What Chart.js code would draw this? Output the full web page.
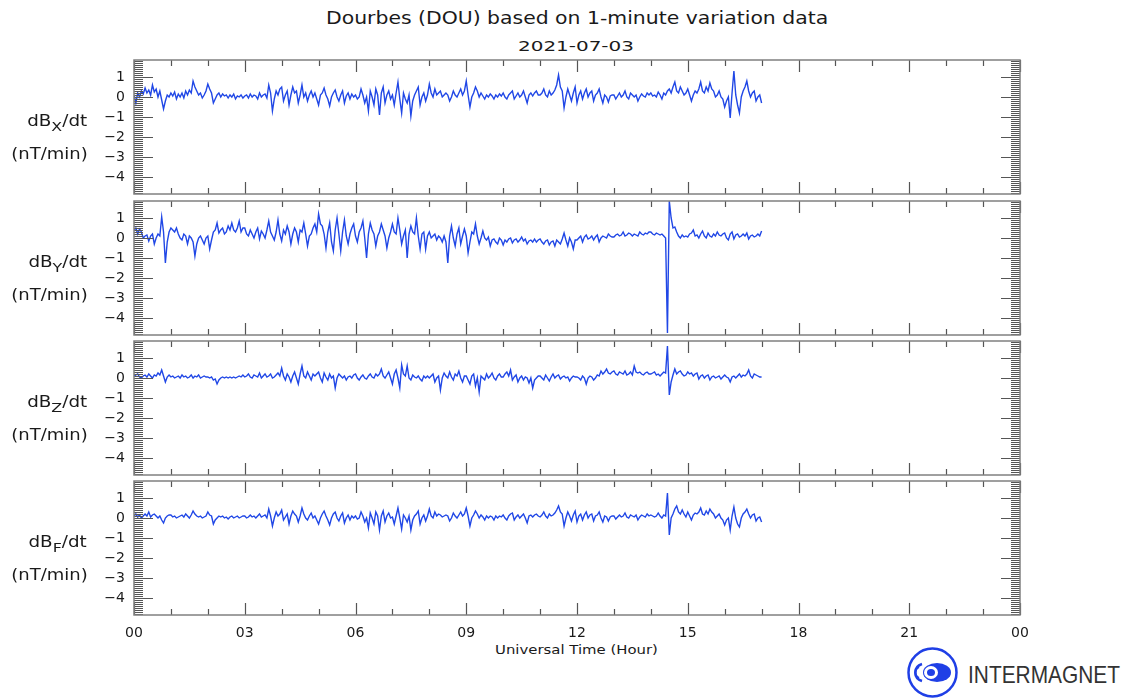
<!DOCTYPE html>
<html><head><meta charset="utf-8">
<script src="https://cdn.jsdelivr.net/npm/chart.js@4.4.1/dist/chart.umd.min.js"></script>
<style>
html,body{margin:0;padding:0;background:#fff;}
body{width:1129px;height:699px;position:relative;overflow:hidden;font-family:"DejaVu Sans",sans-serif;color:#1a1a1a;}
canvas{position:absolute;left:0;}
.t{position:absolute;white-space:nowrap;line-height:1;}
.ylab{position:absolute;white-space:nowrap;line-height:1;font-size:15px;}
.ylab sub{font-size:13px;vertical-align:-5px;line-height:0;}
</style></head><body>

<div class="t fit" data-w="502" data-cx="577" style="top:10px;font-size:17px;">Dourbes (DOU) based on 1-minute variation data</div>
<div class="t fit" data-w="116" data-cx="576" style="top:39px;font-size:14px;">2021-07-03</div>
<div class="t fit" data-w="163" data-cx="576" style="top:643px;font-size:13px;">Universal Time (Hour)</div>

<svg style="position:absolute;left:900px;top:640px" width="66" height="66" viewBox="0 0 66 66">
  <circle cx="32.5" cy="32.5" r="24" fill="none" stroke="#1f3fe6" stroke-width="2.5"/>
  <path d="M22 24 A10 9 0 0 0 22 41" fill="none" stroke="#1f3fe6" stroke-width="2.5"/>
  <path d="M19 27 A6 6 0 0 0 19 38" fill="none" stroke="#1f3fe6" stroke-width="2"/>
  <ellipse cx="37" cy="32.5" rx="14" ry="9.5" fill="#1f3fe6"/>
  <ellipse cx="31" cy="32.5" rx="7" ry="6.5" fill="#fff"/>
  <ellipse cx="31" cy="32.5" rx="4" ry="3.5" fill="#1f3fe6"/>
</svg>
<div class="t fit" data-w="152" data-left="968" style="top:663px;font-size:24px;font-family:'Liberation Sans',sans-serif;color:#333;">INTERMAGNET</div>

<script>
// ---------- data: one value every 3 minutes from 00:00 to 17:00 UT (20 per hour row) ----------
const STEP_MIN = 3;
const dBX = [
 0.1,-0.3,0.2,0.0,0.3,0.15,0.45,0.2,0.35,0.1,  0.6,0.25,0.4,0.0,0.3,-0.15,-0.6,-0.2,0.1,0.0,
 0.2,0.05,0.25,-0.1,0.15,0.0,0.2,-0.05,0.3,0.1,  0.35,0.2,0.8,0.5,0.3,0.1,0.2,-0.05,0.1,0.3,
 0.65,0.4,0.2,-0.3,-0.1,0.1,0.2,0.0,0.15,0.05,  0.1,-0.05,0.1,0.0,0.15,-0.1,0.05,0.0,0.1,-0.05,
 0.05,0.1,-0.05,0.15,0.0,0.1,0.05,-0.1,0.2,0.0,  0.1,0.15,-0.05,0.6,0.2,-0.7,-0.1,0.3,0.1,0.4,
 0.5,-0.2,0.1,0.3,-0.4,0.1,0.5,0.2,0.3,-0.3,  0.1,0.6,0.0,0.2,-0.2,0.1,0.3,0.0,0.2,-0.1,
 -0.4,0.1,0.2,0.45,0.1,-0.1,-0.45,0.0,0.2,0.35,  0.0,-0.2,0.1,0.3,-0.3,0.05,0.2,-0.1,0.15,0.0,
 0.1,-0.1,0.0,0.4,0.1,-0.3,0.0,-0.7,0.3,0.0,  -0.4,0.4,0.1,-0.9,0.2,0.5,-0.3,0.1,0.3,-0.1,
 0.1,-0.4,0.2,0.75,-0.1,-0.8,0.2,-0.1,-0.3,0.1,  -0.95,-0.2,0.1,0.3,0.5,-0.4,0.0,0.2,-0.2,0.1,
 0.65,0.2,0.0,0.4,0.1,0.2,0.3,0.0,0.1,0.2,  0.1,-0.2,0.0,0.3,0.1,0.0,0.2,0.4,0.1,0.3,
 0.8,0.1,-0.5,0.0,0.2,0.5,0.3,0.0,0.2,0.05,  -0.1,0.1,0.0,0.15,0.05,-0.1,0.1,0.0,0.15,0.05,
 0.2,0.0,-0.1,0.1,0.2,0.3,-0.1,0.05,0.2,0.0,  0.1,0.3,0.0,-0.3,0.1,0.2,0.05,0.2,0.3,0.1,
 0.1,0.2,0.4,0.1,0.0,0.3,0.1,0.2,0.35,0.6,  1.1,0.5,0.3,-0.55,0.0,0.4,0.1,-0.2,0.2,0.5,
 -0.3,0.1,0.3,-0.1,0.2,0.4,0.0,0.2,0.3,-0.2,  0.1,0.2,0.4,0.0,-0.3,0.1,0.0,-0.25,0.05,0.1,
 0.1,-0.1,0.05,0.2,0.0,0.1,0.3,0.0,-0.1,0.2,  0.1,0.0,0.1,-0.2,0.0,0.15,0.05,0.0,0.2,0.1,
 0.2,0.05,0.1,0.0,0.25,0.1,-0.1,0.2,0.1,0.3,  0.4,0.2,0.5,0.75,0.3,0.2,0.5,0.3,0.1,0.2,
 0.4,0.1,-0.2,0.1,0.3,0.2,0.4,0.75,0.3,0.2,  0.5,0.3,0.7,0.4,0.3,0.0,0.1,0.3,0.0,-0.1,
 -0.5,-0.2,0.0,-1.05,0.2,1.3,0.1,-0.4,-0.8,0.0,  0.3,0.5,0.8,0.3,0.0,0.2,0.3,-0.2,0.0,0.1,
 -0.3
];
const dBY = [
 0.4,0.5,0.2,0.45,0.3,0.0,0.1,0.15,-0.15,0.1,  0.2,-0.3,0.0,0.2,0.1,1.05,0.3,-1.25,-0.2,0.3,
 0.5,0.4,0.3,0.5,0.2,0.0,-0.1,0.2,0.1,-0.3,  0.1,0.0,-0.2,-0.9,-0.3,0.0,0.1,-0.1,-0.3,0.0,
 0.1,-0.55,-0.1,0.3,0.4,0.75,0.25,0.4,0.5,0.2,  0.3,0.6,0.4,0.75,0.4,0.3,0.5,0.85,0.3,0.5,
 0.5,0.2,0.1,0.4,0.2,0.0,0.3,0.5,-0.05,0.35,  0.2,0.0,0.4,0.85,0.3,0.1,-0.1,0.3,0.9,0.2,
 -0.15,0.4,0.2,0.6,0.3,-0.3,0.2,0.5,0.3,-0.2,  0.4,0.3,0.75,0.2,-0.4,0.1,0.2,0.5,0.7,0.3,
 1.2,0.7,0.6,0.2,-0.5,0.3,0.75,-0.2,-0.65,0.4,  1.0,0.2,-0.65,0.3,0.9,0.1,-0.3,0.2,0.5,0.7,
 0.1,-0.2,0.3,0.5,0.85,0.0,-1.0,0.2,0.75,0.4,  0.2,-0.4,0.1,0.3,0.7,0.4,0.1,-0.5,0.0,0.3,
 0.7,0.3,0.2,1.0,0.4,-0.3,0.1,0.4,-1.0,0.2,  0.6,0.3,0.2,1.0,0.1,-0.55,0.2,0.3,-0.55,0.1,
 0.3,0.0,0.1,0.2,-0.1,0.1,0.0,-0.2,0.1,-0.2,  -1.25,0.1,0.6,0.0,-0.4,0.2,0.5,-0.3,0.1,0.45,
 0.1,-0.75,-0.2,0.3,0.2,0.7,0.1,-0.3,0.0,0.35,  0.0,-0.1,0.05,-0.4,-0.1,-0.05,-0.2,-0.3,0.0,-0.1,
 -0.35,-0.1,-0.2,-0.05,0.0,-0.25,-0.1,-0.05,-0.2,-0.1,  0.05,-0.15,-0.05,-0.3,-0.15,-0.1,-0.2,-0.05,-0.2,-0.1,
 -0.05,-0.2,-0.3,-0.15,-0.1,-0.35,-0.2,-0.15,-0.4,-0.1,  -0.2,-0.3,-0.05,0.25,-0.1,-0.4,0.0,-0.2,-0.55,-0.1,
 -0.1,0.0,0.1,-0.2,0.05,0.15,-0.05,0.0,0.1,-0.1,  0.05,0.15,-0.2,0.0,0.1,0.05,0.0,0.2,0.1,0.05,
 0.05,0.15,0.2,0.1,0.15,0.3,0.1,0.15,0.25,0.2,  0.1,0.2,0.15,0.1,0.3,0.2,0.15,0.25,0.2,0.3,
 0.3,0.2,0.15,0.25,0.2,0.15,0.2,0.1,0.0,-4.75,  1.85,1.0,0.5,0.55,0.3,0.1,0.0,0.15,0.05,0.1,
 0.05,0.2,0.25,0.4,0.1,0.15,0.0,0.2,0.35,0.1,  0.0,0.25,0.1,0.05,0.2,0.1,0.3,0.15,0.1,0.2,
 0.25,0.0,-0.1,0.2,0.3,-0.05,0.15,0.2,0.05,0.1,  0.2,0.1,0.25,-0.05,0.1,0.15,0.05,0.1,0.2,0.1,
 0.35
];
const dBZ = [
 0.1,0.15,0.2,0.05,0.0,0.1,0.15,0.05,0.2,0.1,  0.0,0.15,0.1,0.25,0.15,0.4,0.1,-0.2,0.05,0.15,
 0.05,0.1,0.0,0.05,0.1,0.0,0.15,0.05,0.1,0.0,  0.05,0.15,0.0,0.1,0.05,0.15,0.0,0.05,0.1,0.05,
 0.05,0.0,0.05,-0.1,-0.05,-0.3,-0.1,0.0,0.05,0.0,  0.05,0.0,0.05,0.0,0.05,0.0,0.05,0.1,0.05,0.15,
 0.05,0.1,0.2,0.05,0.0,0.15,0.1,0.05,0.25,0.0,  0.1,0.2,0.05,0.1,0.2,0.0,0.05,0.15,0.25,0.1,
 0.5,0.1,-0.1,0.2,0.05,-0.2,0.1,0.3,0.0,-0.3,  0.2,0.6,0.1,0.0,0.3,0.1,-0.1,0.2,0.1,0.2,
 0.3,0.0,-0.2,0.25,0.05,-0.1,0.2,0.0,0.1,-0.5,  0.0,0.2,0.1,0.0,0.1,-0.1,0.05,0.1,0.0,0.15,
 0.2,0.0,-0.1,0.05,0.15,0.0,-0.05,0.1,0.2,0.05,  0.0,0.2,0.1,0.2,0.45,0.1,0.0,0.15,0.3,0.0,
 -0.3,0.2,0.4,0.0,-0.5,0.65,0.2,0.1,0.6,0.0,  -0.1,0.15,0.05,0.0,0.1,-0.05,-0.15,0.1,0.0,0.1,
 0.0,0.1,0.2,-0.2,0.0,0.1,-0.6,0.0,0.25,0.1,  0.0,0.3,0.05,-0.1,0.2,0.1,0.35,0.0,-0.2,0.1,
 0.1,-0.1,-0.3,0.1,0.2,-0.4,0.0,-0.7,0.1,0.0,  -0.1,0.2,0.0,0.1,0.25,0.0,-0.1,0.1,0.2,0.05,
 0.05,0.2,0.3,0.1,0.4,-0.1,0.05,0.15,-0.2,0.0,  0.1,-0.1,0.05,0.0,-0.25,0.0,-0.5,-0.1,0.0,0.1,
 0.1,0.0,-0.1,0.15,0.0,-0.15,0.05,0.2,0.0,0.1,  0.15,-0.05,0.05,0.1,0.0,0.05,-0.15,0.0,0.1,0.05,
 0.05,0.0,-0.1,0.1,0.0,-0.3,0.0,0.1,0.05,-0.1,  0.0,0.15,0.1,0.35,0.2,0.3,0.45,0.25,0.2,0.3,
 0.35,0.2,0.15,0.3,0.25,0.2,0.35,0.15,0.2,0.3,  0.15,0.6,0.3,0.25,0.3,0.2,0.15,0.25,0.3,0.2,
 0.2,0.25,0.3,0.15,0.2,0.1,0.2,0.3,0.25,1.6,  -0.85,-0.2,0.15,0.45,0.2,0.3,0.35,0.2,0.1,0.15,
 0.3,0.2,0.25,0.1,0.2,0.25,-0.05,0.1,0.15,0.0,  0.1,0.15,-0.1,0.05,0.1,0.0,0.05,0.1,-0.05,0.05,
 0.15,0.05,0.0,-0.2,0.05,0.1,0.0,0.1,0.2,0.05,  0.15,0.1,0.2,0.4,0.1,0.0,0.2,0.15,0.1,0.05,
 0.05
];
const dBF = [
 0.1,0.2,0.05,0.15,0.0,0.1,0.2,0.1,0.3,0.05,  0.15,0.2,0.1,0.0,0.1,-0.1,-0.25,0.0,0.1,0.15,
 0.15,0.05,0.1,0.0,0.05,0.1,0.15,0.05,0.2,0.1,  0.0,0.15,0.35,0.2,0.1,0.05,0.1,0.0,0.05,0.1,
 0.3,0.15,0.1,-0.3,-0.1,0.0,0.1,0.05,0.1,0.0,  0.05,-0.05,0.05,0.1,0.0,0.05,0.1,0.0,0.05,0.1,
 0.1,0.0,0.05,0.15,0.05,0.1,0.0,0.1,0.2,0.05,  0.1,0.15,0.0,0.45,0.1,-0.4,0.0,0.3,0.1,0.2,
 0.4,-0.1,0.05,0.2,-0.3,0.1,0.35,0.2,0.1,-0.2,  0.1,0.5,0.2,0.0,-0.1,0.1,0.25,0.0,0.1,-0.1,
 -0.3,0.0,0.2,0.35,0.1,-0.1,-0.35,0.0,0.2,0.3,  0.0,-0.15,0.1,0.25,-0.25,0.0,0.15,-0.1,0.1,0.0,
 0.1,-0.05,0.0,0.3,0.1,-0.2,0.0,-0.5,0.25,0.0,  -0.3,0.3,0.1,-0.6,0.1,0.35,-0.2,0.1,0.25,0.0,
 0.05,-0.3,0.1,0.5,0.0,-0.55,0.15,0.0,-0.2,0.1,  -0.6,-0.1,0.1,0.2,0.35,-0.3,0.0,0.15,-0.15,0.1,
 0.45,0.1,0.0,0.3,0.1,0.2,0.15,0.05,0.1,0.15,  0.1,-0.15,0.0,0.25,0.1,0.0,0.15,0.3,0.1,0.2,
 0.5,0.1,-0.4,0.0,0.15,0.35,0.2,0.0,0.15,0.05,  -0.1,0.1,0.0,0.1,0.05,-0.1,0.1,0.0,0.1,0.05,
 0.15,0.0,-0.1,0.1,0.2,0.25,-0.1,0.05,0.15,0.0,  0.1,0.2,0.0,-0.25,0.1,0.15,0.05,0.15,0.2,0.1,
 0.05,0.15,0.3,0.1,0.0,0.2,0.1,0.15,0.25,0.4,  0.6,0.3,0.2,-0.4,0.0,0.3,0.1,-0.15,0.15,0.35,
 -0.2,0.1,0.2,-0.1,0.15,0.3,0.0,0.15,0.2,-0.15,  0.1,0.15,0.3,0.0,-0.2,0.1,0.05,-0.15,0.05,0.1,
 0.1,-0.05,0.05,0.15,0.05,0.1,0.25,0.05,0.0,0.15,  0.1,0.05,0.15,-0.1,0.05,0.15,0.1,0.05,0.2,0.1,
 0.15,0.1,0.05,0.1,0.25,0.1,0.0,0.15,0.1,1.25,  -0.85,0.0,0.2,0.45,0.6,0.3,0.2,0.4,0.2,0.05,
 0.3,0.1,-0.1,0.15,0.25,0.2,0.3,0.5,0.2,0.15,  0.35,0.2,0.45,0.3,0.2,0.0,0.1,0.2,0.0,-0.1,
 -0.35,-0.1,0.0,-0.6,0.1,0.55,0.0,-0.3,-0.45,0.0,  0.2,0.3,0.45,0.2,0.0,0.15,0.2,-0.15,0.0,0.05,
 -0.2
];
const SERIES = [dBX, dBY, dBZ, dBF];
const COMPONENTS = ['X', 'Y', 'Z', 'F'];
const X_MAJOR = [0, 3, 6, 9, 12, 15, 18, 21, 24];
const X_LABELS = ['00','03','06','09','12','15','18','21','00'];
const X_MINOR = [1,2,4,5,7,8,10,11,13,14,16,17,19,20,22,23];
const Y_MAJOR = [-4, -3, -2, -1, 0, 1];
const Y_LABELS = ['\u22124','\u22123','\u22122','\u22121','0','1'];
const Y_MIN = -4.85, Y_MAX = 1.85;

// ---------- layout ----------
const PANEL_TOPS = [60, 201, 341, 481];
const PANEL_H = 134;
const PLOT_L = 134, PLOT_R = 1020;
const Y_AXIS_W = 40, X_AXIS_H = 26, PAD_T = 10, PAD_B = 10;
const LINE_COLOR = '#2047e6';

const frameTicks = {
  id: 'frameTicks',
  afterDatasetsDraw(chart) {
    const {ctx, chartArea: a, scales: {x, y}} = chart;
    ctx.save();
    ctx.strokeStyle = '#555';
    ctx.lineWidth = 1;
    ctx.beginPath();
    for (let k = Math.ceil(Y_MIN * 10); k <= Math.floor(Y_MAX * 10); k++) {
      const py = Math.round(y.getPixelForValue(k / 10)) + 0.5;
      ctx.moveTo(a.left, py); ctx.lineTo(a.left + 9, py);
      ctx.moveTo(a.right, py); ctx.lineTo(a.right - 9, py);
    }
    ctx.stroke();
    ctx.lineWidth = 1.2;
    ctx.beginPath();
    for (const v of Y_MAJOR) {
      const py = Math.round(y.getPixelForValue(v)) + 0.5;
      ctx.moveTo(a.left, py); ctx.lineTo(a.left + 19, py);
      ctx.moveTo(a.right, py); ctx.lineTo(a.right - 19, py);
    }
    for (const v of X_MAJOR) {
      const px = Math.round(x.getPixelForValue(v)) + 0.5;
      ctx.moveTo(px, a.top); ctx.lineTo(px, a.top + 12);
      ctx.moveTo(px, a.bottom); ctx.lineTo(px, a.bottom - 12);
    }
    for (const v of X_MINOR) {
      const px = Math.round(x.getPixelForValue(v)) + 0.5;
      ctx.moveTo(px, a.top); ctx.lineTo(px, a.top + 6);
      ctx.moveTo(px, a.bottom); ctx.lineTo(px, a.bottom - 6);
    }
    ctx.stroke();
    ctx.strokeStyle = '#808080';
    ctx.lineWidth = 1.5;
    ctx.strokeRect(a.left, a.top, a.right - a.left, a.bottom - a.top);
    ctx.restore();
  }
};

function makePanel(idx) {
  const isLast = idx === SERIES.length - 1;
  const top = PANEL_TOPS[idx];
  const h = PAD_T + PANEL_H + PAD_B + (isLast ? X_AXIS_H : 0);
  const canvas = document.createElement('canvas');
  canvas.width = 1129; canvas.height = h;
  canvas.style.top = (top - PAD_T) + 'px';
  canvas.style.width = '1129px'; canvas.style.height = h + 'px';
  document.body.appendChild(canvas);

  const l1 = document.createElement('div');
  l1.className = 'ylab';
  l1.style.right = (1129 - 87) + 'px';
  l1.style.top = (top + 54) + 'px';
  l1.style.transformOrigin = 'right top';
  l1.style.transform = 'scaleX(1.22)';
  l1.innerHTML = 'dB<sub>' + COMPONENTS[idx] + '</sub>/dt';
  document.body.appendChild(l1);
  const l2 = document.createElement('div');
  l2.className = 'ylab';
  l2.style.right = (1129 - 88) + 'px';
  l2.style.top = (top + 87) + 'px';
  l2.style.transformOrigin = 'right top';
  l2.style.transform = 'scaleX(1.2)';
  l2.textContent = '(nT/min)';
  document.body.appendChild(l2);

  const tickFont = {family: "'DejaVu Sans', sans-serif", size: 14};
  new Chart(canvas, {
    type: 'line',
    data: {
      datasets: [{
        data: SERIES[idx].map((v, i) => ({x: i * STEP_MIN / 60, y: v})),
        borderColor: LINE_COLOR, borderWidth: 1.4, pointRadius: 0, tension: 0, fill: false
      }]
    },
    options: {
      responsive: false, animation: false, devicePixelRatio: 1,
      layout: {padding: {left: PLOT_L - Y_AXIS_W, right: 1129 - PLOT_R, top: PAD_T, bottom: PAD_B}},
      plugins: {legend: {display: false}, tooltip: {enabled: false}},
      scales: {
        x: {
          type: 'linear', min: 0, max: 24, display: isLast,
          grid: {display: false, drawTicks: false}, border: {display: false},
          afterBuildTicks(s) { s.ticks = X_MAJOR.map(v => ({value: v})); },
          afterFit(s) { if (isLast) s.height = X_AXIS_H; s.paddingLeft = 0; s.paddingRight = 0; },
          ticks: {autoSkip: false, maxRotation: 0, padding: 10, font: tickFont, color: '#1a1a1a',
                  callback: (v, i) => X_LABELS[i]}
        },
        y: {
          type: 'linear', min: Y_MIN, max: Y_MAX,
          grid: {display: false, drawTicks: false}, border: {display: false},
          afterBuildTicks(s) { s.ticks = Y_MAJOR.map(v => ({value: v})); },
          afterFit(s) { s.width = Y_AXIS_W; s.paddingTop = 0; s.paddingBottom = 0; },
          ticks: {autoSkip: false, padding: 9, font: tickFont, color: '#1a1a1a', callback: (v, i) => Y_LABELS[i]}
        }
      }
    },
    plugins: [frameTicks]
  });
}
SERIES.forEach((s, i) => makePanel(i));

document.querySelectorAll('.fit').forEach(el => {
  const w = el.getBoundingClientRect().width;
  const target = +el.dataset.w;
  el.style.transformOrigin = 'left top';
  el.style.transform = 'scaleX(' + (target / w).toFixed(3) + ')';
  el.style.left = (el.dataset.cx ? (+el.dataset.cx - target / 2) : +el.dataset.left) + 'px';
});
</script>
</body></html>
